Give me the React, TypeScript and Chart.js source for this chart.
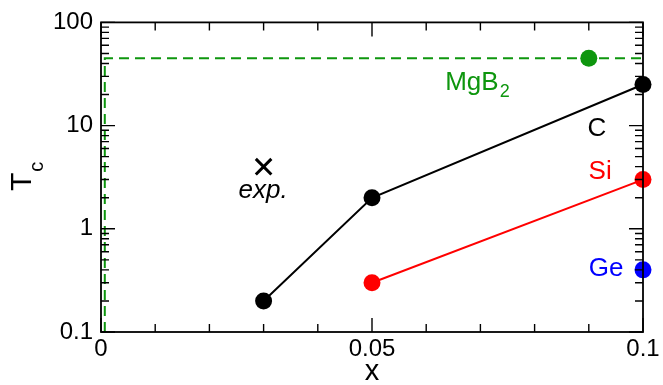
import React, { useEffect, useRef } from "react";
import { Chart, registerables } from "chart.js";

Chart.register(...registerables);

// Data
const cX = [0.03, 0.05, 0.1];
const cY = [0.2, 2, 25];
const siX = [0.05, 0.1];
const siY = [0.3, 3];
const geX = [0.1];
const geY = [0.4];
const mgb2X = [0.09];
const mgb2Y = [45];
const expX = [0.03];
const expY = [4];
const mgb2LineX = [0.0007, 0.0007, 0.1];
const mgb2LineY = [0.1, 45, 45];

const xTickValues = [0, 0.05, 0.1];
const xMinorValues = [0.01, 0.02, 0.03, 0.04, 0.06, 0.07, 0.08, 0.09];
const yTickValues = [0.1, 1, 10, 100];
const xTickLabels = ["0", "0.05", "0.1"];
const yTickLabels = ["0.1", "1", "10", "100"];

const GREEN = "#0e960e";
const FONT = "'Liberation Sans', Arial, Helvetica, sans-serif";

const pts = (xs: number[], ys: number[]) => xs.map((x, i) => ({ x, y: ys[i] }));

const framePlugin = {
  id: "frame",
  afterDatasetsDraw(chart: any) {
    const { ctx, chartArea: a, scales } = chart;
    const xs = scales.x;
    const ys = scales.y;
    ctx.save();
    ctx.strokeStyle = "#000";
    ctx.lineWidth = 1.8;
    ctx.strokeRect(a.left, a.top, a.right - a.left, a.bottom - a.top);
    ctx.lineWidth = 1.4;
    ctx.beginPath();
    const major = 14;
    const minor = 8;
    xTickValues.forEach((v) => {
      const px = xs.getPixelForValue(v);
      ctx.moveTo(px, a.bottom);
      ctx.lineTo(px, a.bottom - major);
      ctx.moveTo(px, a.top);
      ctx.lineTo(px, a.top + major);
    });
    xMinorValues.forEach((v) => {
      const px = xs.getPixelForValue(v);
      ctx.moveTo(px, a.bottom);
      ctx.lineTo(px, a.bottom - minor);
      ctx.moveTo(px, a.top);
      ctx.lineTo(px, a.top + minor);
    });
    yTickValues.forEach((v, i) => {
      const py = ys.getPixelForValue(v);
      ctx.moveTo(a.left, py);
      ctx.lineTo(a.left + major, py);
      ctx.moveTo(a.right, py);
      ctx.lineTo(a.right - major, py);
      if (i < yTickValues.length - 1) {
        for (let k = 2; k <= 9; k++) {
          const pm = ys.getPixelForValue(v * k);
          ctx.moveTo(a.left, pm);
          ctx.lineTo(a.left + minor, pm);
          ctx.moveTo(a.right, pm);
          ctx.lineTo(a.right - minor, pm);
        }
      }
    });
    ctx.stroke();

    const at = (x: number, y: number) => [xs.getPixelForValue(x), ys.getPixelForValue(y)];
    ctx.textBaseline = "middle";
    ctx.textAlign = "center";
    ctx.font = `26px ${FONT}`;
    let p = at(0.0915, 9.4);
    ctx.fillStyle = "#000";
    ctx.fillText("C", p[0], p[1]);
    p = at(0.0921, 3.53);
    ctx.fillStyle = "#ff0000";
    ctx.fillText("Si", p[0], p[1]);
    p = at(0.0932, 0.41);
    ctx.fillStyle = "#0000ff";
    ctx.fillText("Ge", p[0], p[1]);
    // MgB2
    p = at(0.0635, 26.9);
    ctx.fillStyle = GREEN;
    ctx.textAlign = "left";
    ctx.textBaseline = "alphabetic";
    ctx.font = `26px ${FONT}`;
    const base = p[1] + 9;
    ctx.fillText("MgB", p[0], base);
    const w = ctx.measureText("MgB").width;
    ctx.font = `18px ${FONT}`;
    ctx.fillText("2", p[0] + w + 1, base + 7);
    // exp.
    p = at(0.0299, 2.37);
    ctx.fillStyle = "#000";
    ctx.textAlign = "center";
    ctx.font = `italic 26px ${FONT}`;
    ctx.fillText("exp.", p[0], p[1] + 8);

    // axis titles
    ctx.font = `29px ${FONT}`;
    ctx.textAlign = "center";
    ctx.textBaseline = "alphabetic";
    ctx.fillText("x", (a.left + a.right) / 2, 380);
    ctx.save();
    ctx.translate(31, 191);
    ctx.rotate(-Math.PI / 2);
    ctx.textAlign = "left";
    ctx.font = `30px ${FONT}`;
    ctx.fillText("T", 0, 0);
    const tw = ctx.measureText("T").width;
    ctx.font = `20px ${FONT}`;
    ctx.fillText("c", tw + 1, 12);
    ctx.restore();
    ctx.restore();
  },
};

export default function App() {
  const ref = useRef<HTMLCanvasElement>(null);
  useEffect(() => {
    document.body.style.margin = "0";
    const canvas = ref.current!;
    const chart = new Chart(canvas, {
      type: "scatter",
      data: {
        datasets: [
          {
            data: pts(mgb2LineX, mgb2LineY),
            showLine: true,
            borderColor: GREEN,
            borderWidth: 2,
            borderDash: [10, 6],
            pointRadius: 0,
            clip: false as any,
          },
          {
            data: pts(cX, cY),
            showLine: true,
            borderColor: "#000",
            backgroundColor: "#000",
            borderWidth: 2,
            pointRadius: 8.5,
            pointBorderWidth: 0,
            clip: false as any,
          },
          {
            data: pts(siX, siY),
            showLine: true,
            borderColor: "#ff0000",
            backgroundColor: "#ff0000",
            borderWidth: 2,
            pointRadius: 8.5,
            pointBorderWidth: 0,
            clip: false as any,
          },
          {
            data: pts(geX, geY),
            borderColor: "#0000ff",
            backgroundColor: "#0000ff",
            pointRadius: 8.5,
            pointBorderWidth: 0,
            clip: false as any,
          },
          {
            data: pts(mgb2X, mgb2Y),
            borderColor: GREEN,
            backgroundColor: GREEN,
            pointRadius: 8.5,
            pointBorderWidth: 0,
            clip: false as any,
          },
          {
            data: pts(expX, expY),
            pointStyle: "crossRot",
            borderColor: "#000",
            backgroundColor: "#000",
            pointRadius: 11,
            pointBorderWidth: 3,
            clip: false as any,
          },
        ],
      },
      options: {
        responsive: false,
        animation: false,
        events: [],
        layout: { padding: { top: 22, right: 20, left: 0, bottom: 0 } },
        plugins: { legend: { display: false }, tooltip: { enabled: false } },
        scales: {
          x: {
            type: "linear",
            min: 0,
            max: 0.1,
            border: { display: false },
            grid: { display: false, drawTicks: false },
            afterBuildTicks: (s: any) => {
              s.ticks = xTickValues.map((v) => ({ value: v }));
            },
            afterFit: (s: any) => {
              s.height = 53;
            },
            ticks: {
              color: "#000",
              padding: 3,
              maxRotation: 0,
              autoSkip: false,
              font: { family: FONT, size: 24 },
              callback: (v: any) => xTickLabels[xTickValues.indexOf(Number(v))] ?? "",
            },
          },
          y: {
            type: "logarithmic",
            min: 0.1,
            max: 100,
            border: { display: false },
            grid: { display: false, drawTicks: false },
            afterBuildTicks: (s: any) => {
              s.ticks = yTickValues.map((v) => ({ value: v }));
            },
            afterFit: (s: any) => {
              s.width = 101;
            },
            ticks: {
              color: "#000",
              padding: 8,
              autoSkip: false,
              font: { family: FONT, size: 24 },
              callback: (v: any) => yTickLabels[yTickValues.indexOf(Number(v))] ?? "",
            },
          },
        },
      },
      plugins: [framePlugin],
    });
    return () => chart.destroy();
  }, []);
  return <canvas ref={ref} width={663} height={385} style={{ display: "block" }} />;
}
